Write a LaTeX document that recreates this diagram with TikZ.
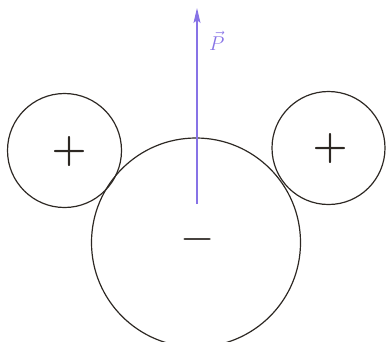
\RequirePackage{fix-cm}
\documentclass[tikz,border=0pt]{standalone}
\usepackage{tikz}
\usetikzlibrary{arrows.meta}
\definecolor{inkc}{RGB}{45,40,35}
\definecolor{vecc}{RGB}{135,115,230}
\tikzset{
  ring/.style={draw=inkc, line width=1.2pt, circle, inner sep=0pt},
  sign/.style={text=inkc, inner sep=0pt},
  vec/.style={draw=vecc, line width=1.1pt, -{Stealth[length=15pt,width=7pt,inset=3pt]}}
}
\begin{document}
\begin{tikzpicture}[x=1pt,y=-1pt]
\useasboundingbox (0,0) rectangle (387,341);
\begin{scope}
\clip (0,0) rectangle (387,341);
\node[ring, minimum size=209pt] (big) at (196,242.5) {};
\end{scope}
\node[ring, minimum size=114pt] (left) at (64.5,150.5) {};
\node[ring, minimum size=113pt] (right) at (328.5,148) {};
\node[sign, font=\fontsize{40}{40}\selectfont\boldmath] (lp) at (69,151) {$+$};
\node[sign, font=\fontsize{40}{40}\selectfont\boldmath] (rp) at (330,148) {$+$};
\node[sign, font=\fontsize{44}{44}\selectfont] (mn) at (198,239) {$-$};
\coordinate (tail) at (197,204);
\coordinate (tip) at (197,8);
\draw[vec] (tail) -- (tip);
\node[text=vecc, font=\fontsize{20}{20}\selectfont, anchor=west, inner sep=0pt] (P) at (209,41) {$\vec{P}$};
\end{tikzpicture}
\end{document}
